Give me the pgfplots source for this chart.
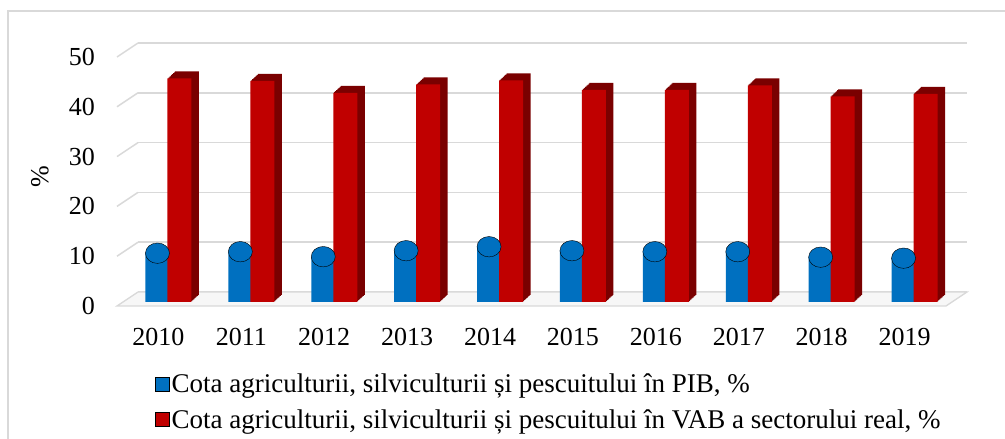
\documentclass[border=0pt]{standalone}
\usepackage{fontspec}
\setmainfont{Liberation Serif}
\usepackage{pgfplots}
\usepackage{pgfplotstable}
\pgfplotsset{compat=1.18}

\definecolor{redF}{HTML}{C00000}
\definecolor{redD}{HTML}{7A0000}
\definecolor{blueM}{HTML}{0070C0}
\definecolor{gridc}{HTML}{D9D9D9}

% i = position, pib = share in GDP, vab = share in GVA of the real sector
\pgfplotstableread{
i year pib vab
0 2010 9.8  44.9
1 2011 10.1 44.4
2 2012 9.1  42.0
3 2013 10.3 43.7
4 2014 11.1 44.5
5 2015 10.3 42.6
6 2016 10.1 42.6
7 2017 10.1 43.5
8 2018 9.0  41.3
9 2019 8.8  41.8
}\data

\tikzset{bigfont/.style={font=\fontsize{26}{30}\selectfont},
  legfont/.style={font=\fontsize{27}{31}\selectfont}}
\pgfplotsset{
  layer/.style={scale only axis, width=829pt, height=249pt,
    xmin=-0.5, xmax=9.5, ymin=0, ymax=50,
    axis line style={draw=none}, major tick length=0pt,
    clip=false, anchor=south west, xtick=\empty, ytick=\empty},
}

\begin{document}
\begin{tikzpicture}[x=1pt,y=1pt]
\useasboundingbox (0,0) rectangle (1005,439);
\draw[gridc, line width=1.5pt] (8,0) -- (8,428) -- (1010,428);

% back wall with grid, floor and left edges
\begin{axis}[layer, at={(138pt,147pt)},
  ytick={0,10,...,50}, yticklabels={}, ymajorgrids,
  grid style={gridc, line width=1.5pt}]
\addplot[fill=gray!6, draw=gridc, line width=1.3pt] coordinates
  {(-0.5,0) (9.5,0) (9.2467,-2.81) (-0.7533,-2.81) (-0.5,0)};
\addplot[gridc, line width=1.5pt] coordinates {(-0.7533,7.19) (-0.5,10)};
\addplot[gridc, line width=1.5pt] coordinates {(-0.7533,17.19) (-0.5,20)};
\addplot[gridc, line width=1.5pt] coordinates {(-0.7533,27.19) (-0.5,30)};
\addplot[gridc, line width=1.5pt] coordinates {(-0.7533,37.19) (-0.5,40)};
\addplot[gridc, line width=1.5pt] coordinates {(-0.7533,47.19) (-0.5,50)};
\end{axis}

% front plane: labels and legend
\begin{axis}[layer, at={(117pt,133pt)},
  xtick={0,...,9},
  xticklabels={2010,2011,2012,2013,2014,2015,2016,2017,2018,2019},
  ytick={0,10,...,50},
  /pgf/number format/assume math mode=true,
  tick label style={bigfont, text=black},
  yticklabel style={anchor=east, inner sep=0pt, xshift=-22pt},
  xticklabel style={anchor=north, inner sep=0pt, yshift=-22pt},
  ylabel={\%},
  every axis y label/.style={at={(axis description cs:0,0.52)},
    xshift=-77pt, rotate=90, anchor=center, bigfont},
  legend image code/.code={\fill[#1] (0pt,-7pt) rectangle (14pt,7pt);},
  legend style={draw=none, fill=none, legfont, at={(axis description cs:0,0)},
    anchor=north west, xshift=38pt, yshift=-66pt, inner sep=0pt,
    row sep=11pt, nodes={inner sep=2pt}},
  legend cell align=left]
\addlegendimage{fill=blueM}
\addlegendentry{Cota agriculturii, silviculturii și pescuitului în PIB, \%}
\addlegendimage{fill=redF}
\addlegendentry{Cota agriculturii, silviculturii și pescuitului în VAB a sectorului real, \%}
\end{axis}

% bars
\begin{axis}[layer, at={(127pt,137pt)}]
\addplot[ybar, bar width=24pt, bar shift=-11pt, draw=none, fill=blueM]
  table[x=i, y=pib] {\data};
\addplot[only marks, mark=*, mark size=12pt,
  mark options={xshift=-11pt, yscale=0.85, draw=none, fill=blueM}]
  table[x=i, y=pib] {\data};
\pgfplotsinvokeforeach{8,7,6,5,4,3,2,1}{
  \addplot[ybar, bar width=24pt, bar shift=11pt, draw=none, fill=redD,
    xshift=#1*0.94pt, yshift=#1*0.875pt]
    table[x=i, y=vab] {\data};
}
\addplot[ybar, bar width=24pt, bar shift=11pt, draw=none, fill=redF]
  table[x=i, y=vab] {\data};
\end{axis}
\end{tikzpicture}
\end{document}
